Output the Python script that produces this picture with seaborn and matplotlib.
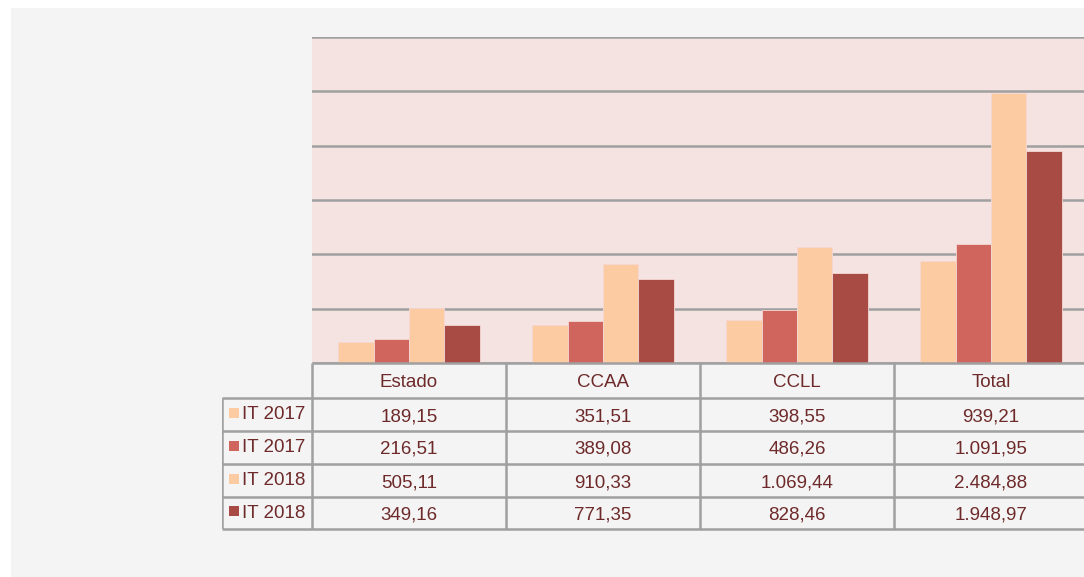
import pandas as pd
import matplotlib.pyplot as plt
import seaborn as sns
from matplotlib.patches import Rectangle

# Data
categorias = ['Estado', 'CCAA', 'CCLL', 'Total']
series = ['IT 2017', 'IT 2017', 'IT 2018', 'IT 2018']
it2017_a = [189.15, 351.51, 398.55, 939.21]
it2017_b = [216.51, 389.08, 486.26, 1091.95]
it2018_a = [505.11, 910.33, 1069.44, 2484.88]
it2018_b = [349.16, 771.35, 828.46, 1948.97]
colores = ['#fccba1', '#d0655e', '#fccba1', '#a84b44']


def fmt_es(v):
    """Format number Spanish style: 1.091,95"""
    s = f'{v:,.2f}'
    return s.replace(',', 'X').replace('.', ',').replace('X', '.')


def build_frame():
    valores = [it2017_a, it2017_b, it2018_a, it2018_b]
    rows = []
    for k, vals in enumerate(valores):
        for cat, v in zip(categorias, vals):
            rows.append({'categoria': cat, 'serie': f's{k}', 'valor': v})
    return pd.DataFrame(rows), valores


def main():
    sns.set_theme(style='white')
    plt.rcParams['font.family'] = ['Liberation Sans', 'DejaVu Sans']
    texto = '#6e2a2a'
    linea = '#a0a0a0'

    df, valores = build_frame()
    W, H = 1084, 577
    fig = plt.figure(figsize=(W / 100, H / 100), dpi=100)
    fig.patch.set_facecolor('white')
    fig.patches.append(Rectangle((11 / W, 0), 1, 1 - 8 / H, transform=fig.transFigure,
                                 facecolor='#f4f4f4', edgecolor='none', zorder=-10))

    # bar area
    ax = fig.add_axes([312 / W, (H - 363) / H, 776 / W, 326 / H])
    ax.set_facecolor('#f5e3e1')
    sns.barplot(data=df, x='categoria', y='valor', hue='serie',
                hue_order=['s0', 's1', 's2', 's3'], palette=colores,
                saturation=1, width=0.73, legend=False, ax=ax,
                edgecolor='#f5d8d4', linewidth=0.6, zorder=3)
    ax.set_xlim(-0.5, 3.5)
    ax.set_ylim(0, 3000)
    ax.set_yticks(range(0, 3001, 500))
    ax.yaxis.grid(True, color=linea, lw=1.8, zorder=0)
    ax.set_axisbelow(True)
    ax.set_xticks([])
    ax.set_yticklabels([])
    ax.tick_params(left=False, bottom=False)
    ax.set_xlabel('')
    ax.set_ylabel('')
    for sp in ax.spines.values():
        sp.set_visible(False)

    # data table below
    tax = fig.add_axes([222 / W, (H - 529) / H, 866 / W, 166 / H])
    tax.set_xlim(-0.5 - 90 / 194, 3.5)
    tax.set_ylim(166, 0)
    tax.axis('off')
    edges = [0, 35, 68, 101, 134, 166]
    xl = -0.5 - 90 / 194
    lw = 1.8
    tax.hlines(edges[0], -0.5, 3.6, color=linea, lw=lw, clip_on=False)
    for e in edges[1:]:
        tax.hlines(e, xl, 3.6, color=linea, lw=lw, clip_on=False)
    for i in range(len(categorias) + 1):
        tax.vlines(i - 0.5, 0, edges[-1], color=linea, lw=lw)
    tax.vlines(xl, edges[1], edges[-1], color=linea, lw=lw)

    fs = 13.5
    for i, cat in enumerate(categorias):
        tax.text(i, (edges[0] + edges[1]) / 2 + 2, cat, ha='center', va='center',
                 fontsize=fs, color=texto)
    for r, (nombre, vals) in enumerate(zip(series, valores)):
        yc = (edges[r + 1] + edges[r + 2]) / 2
        tax.add_patch(Rectangle((xl + 7 / 194, yc - 7), 10 / 194, 10,
                                facecolor=colores[r], edgecolor='none'))
        tax.text(xl + 20 / 194, yc, nombre, ha='left', va='center',
                 fontsize=fs, color=texto)
        for i, v in enumerate(vals):
            tax.text(i, yc + 2, fmt_es(v), ha='center', va='center',
                     fontsize=fs, color=texto)

    fig.savefig('out.png', dpi=100)


if __name__ == '__main__':
    main()
